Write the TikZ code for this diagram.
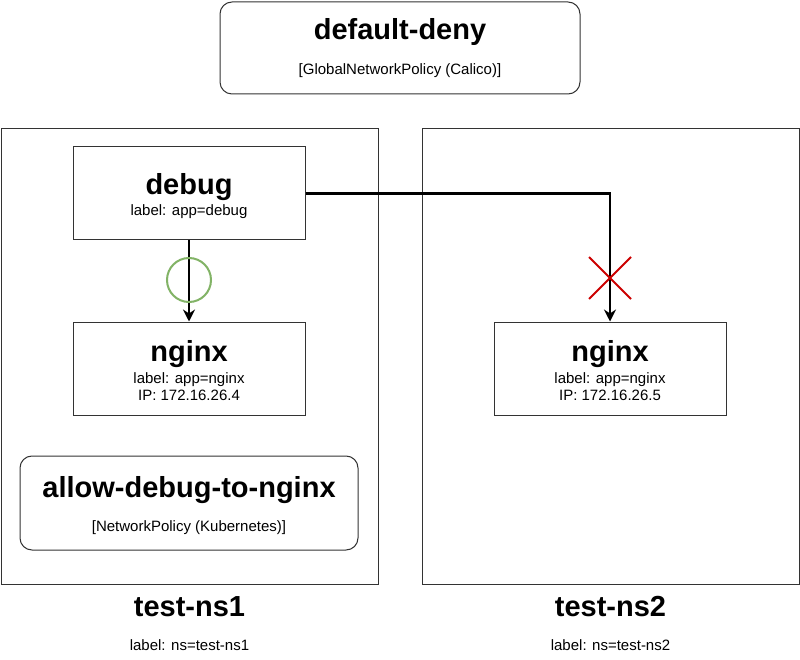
\documentclass[tikz,border=0pt]{standalone}
\usepackage{fontspec}
\setmainfont{Liberation Sans}
\usetikzlibrary{arrows.meta}
\definecolor{okgreen}{RGB}{130,179,102}
\definecolor{nored}{RGB}{204,0,0}
\tikzset{
  boxstyle/.style={draw=black!80, line width=1pt, fill=white, inner sep=0pt},
  roundbox/.style={boxstyle, rounded corners=12pt},
  titletext/.style={anchor=base, inner sep=0pt, font=\fontsize{29}{34}\selectfont\bfseries},
  smalltext/.style={anchor=base, inner sep=0pt, font=\fontsize{15}{17}\selectfont},
  flow/.style={line width=2.2pt, -{Stealth[length=12pt,width=12pt,inset=4pt]}},
}
\begin{document}
\begin{tikzpicture}[x=1pt,y=-1pt]
\useasboundingbox (0,0) rectangle (800,660);
% namespaces
\node[boxstyle, minimum width=377pt, minimum height=455pt] (ns1) at (189.5,356.5) {};
\node[boxstyle, minimum width=377pt, minimum height=455pt] (ns2) at (610.5,356.5) {};
% global policy
\node[roundbox, minimum width=360pt, minimum height=92pt] (dd) at (400,48) {};
\node[titletext] (ddt) at (400,40) {default-deny};
\node[smalltext] (dds) at (400,75) {[GlobalNetworkPolicy (Calico)]};
% debug
\node[boxstyle, minimum width=232pt, minimum height=93pt] (debug) at (189,193.5) {};
\node[titletext] (debugt) at (189,195) {debug};
\node[smalltext] (debugl) at (189,216) {label: app=debug};
% nginx 1
\node[boxstyle, minimum width=232pt, minimum height=93pt] (ngA) at (189,368.5) {};
\node[titletext] (ngAt) at (189,361) {nginx};
\node[smalltext] (ngAl) at (189,383) {label: app=nginx};
\node[smalltext] (ngAi) at (189,400) {IP: 172.16.26.4};
% nginx 2
\node[boxstyle, minimum width=232pt, minimum height=93pt] (ngB) at (610,368.5) {};
\node[titletext] (ngBt) at (610,361) {nginx};
\node[smalltext] (ngBl) at (610,383) {label: app=nginx};
\node[smalltext] (ngBi) at (610,400) {IP: 172.16.26.5};
% allow policy
\node[roundbox, minimum width=338pt, minimum height=94pt] (allow) at (189,503) {};
\node[titletext] (allowt) at (189,497) {allow-debug-to-nginx};
\node[smalltext] (allows) at (189,531) {[NetworkPolicy (Kubernetes)]};
% namespace labels
\node[titletext] (ns1t) at (189.5,616) {test-ns1};
\node[smalltext] (ns1l) at (189.5,650) {label: ns=test-ns1};
\node[titletext] (ns2t) at (610.5,616) {test-ns2};
\node[smalltext] (ns2l) at (610.5,650) {label: ns=test-ns2};
% connectors
\draw[flow] (debug.south) -- (ngA.north);
\draw[flow] (debug.east) -| (ngB.north);
% allowed marker
\node[draw=okgreen, line width=2pt, circle, minimum size=44pt, inner sep=0pt] (ok) at (189,280) {};
% denied marker
\coordinate (deny) at (610,278);
\draw[line width=2pt, draw=nored] ([shift={(-21,-21)}]deny) -- ([shift={(21,21)}]deny)
  ([shift={(-21,21)}]deny) -- ([shift={(21,-21)}]deny);
\end{tikzpicture}
\end{document}
